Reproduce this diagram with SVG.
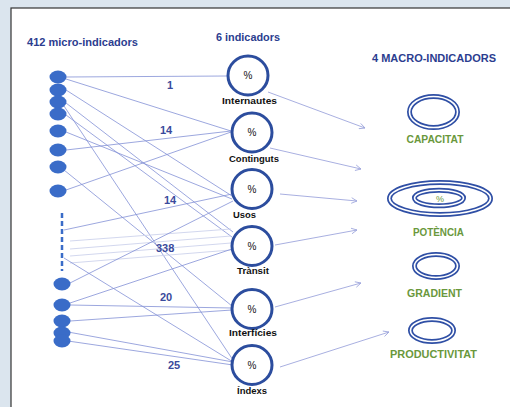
<svg xmlns="http://www.w3.org/2000/svg" width="510" height="407" viewBox="0 0 510 407">
<defs>
<style>
.t{font-family:"Liberation Sans",Arial,sans-serif;font-weight:bold}
.title{font-size:11px;fill:#2b3d8f}
.num{font-size:11px;fill:#3a4a9c}
.lab{font-size:9.5px;fill:#111}
.pct{font-size:10px;fill:#111;font-weight:normal}
.mac{font-size:10.5px;fill:#6a983c}
.micro{fill:#3a6cc8}
.ind{fill:#fff;stroke:#2c4d9e;stroke-width:3}
.c{stroke:#8391d6;stroke-width:0.8;fill:none}
.f{stroke:#cdd2ec;stroke-width:0.9;fill:none}
.a{stroke:#9ea6dc;stroke-width:0.9;fill:none;marker-end:url(#ah)}
.ro{fill:none;stroke:#2f4fa5;stroke-width:5}
.ri{fill:none;stroke:#fff;stroke-width:1.6}
</style>
<marker id="ah" viewBox="0 0 10 10" refX="9" refY="5" markerWidth="7" markerHeight="7" markerUnits="userSpaceOnUse" orient="auto">
<path d="M1,1 L9,5 L1,9" fill="none" stroke="#9ea6dc" stroke-width="1.2"/>
</marker>
</defs>
<rect x="0" y="0" width="510" height="407" fill="#dbe5ee"/>
<rect x="11" y="8" width="510" height="410" fill="#fff" stroke="#333" stroke-width="1.2"/>

<text class="t title" x="27" y="46" textLength="111" lengthAdjust="spacingAndGlyphs">412 micro-indicadors</text>
<text class="t title" x="216" y="41" textLength="64" lengthAdjust="spacingAndGlyphs">6 indicadors</text>
<text class="t title" x="372" y="62" textLength="124" lengthAdjust="spacingAndGlyphs">4 MACRO-INDICADORS</text>

<g id="connectors">
<line class="c" x1="66" y1="77" x2="227" y2="76"/>
<line class="c" x1="66" y1="79" x2="231" y2="131"/>
<line class="c" x1="66" y1="150" x2="231" y2="131"/>
<line class="c" x1="66" y1="190" x2="231" y2="132"/>
<line class="c" x1="66" y1="90" x2="232" y2="196"/>
<line class="c" x1="66" y1="103" x2="233" y2="232"/>
<line class="c" x1="66" y1="115" x2="232" y2="237"/>
<line class="c" x1="64" y1="106" x2="233" y2="360"/>
<line class="c" x1="66" y1="132" x2="232" y2="199"/>
<line class="c" x1="64" y1="170" x2="232" y2="306"/>
<line class="c" x1="64" y1="230" x2="232" y2="194"/>
<line class="f" x1="70" y1="241" x2="231" y2="229"/>
<line class="f" x1="70" y1="249" x2="231" y2="236"/>
<line class="f" x1="70" y1="256" x2="231" y2="243"/>
<line class="f" x1="70" y1="263" x2="231" y2="250"/>
<line class="c" x1="64" y1="258" x2="233" y2="362"/>
<line class="c" x1="70" y1="283" x2="233" y2="201"/>
<line class="c" x1="70" y1="303" x2="232" y2="249"/>
<line class="c" x1="70" y1="305" x2="232" y2="308"/>
<line class="c" x1="70" y1="321" x2="232" y2="310"/>
<line class="c" x1="68" y1="332" x2="233" y2="362"/>
<line class="c" x1="68" y1="341" x2="233" y2="365"/>
<line class="a" x1="268" y1="92" x2="365" y2="128"/>
<line class="a" x1="270" y1="148" x2="361" y2="169"/>
<line class="a" x1="280" y1="194" x2="357" y2="201"/>
<line class="a" x1="275" y1="245" x2="357" y2="230"/>
<line class="a" x1="275" y1="307" x2="361" y2="283"/>
<line class="a" x1="280" y1="367" x2="389" y2="332"/>
</g>

<g id="micro">
<ellipse class="micro" cx="58" cy="77" rx="8.5" ry="6.5"/>
<ellipse class="micro" cx="58" cy="90" rx="8.5" ry="6.5"/>
<ellipse class="micro" cx="58" cy="102" rx="8.5" ry="6.5"/>
<ellipse class="micro" cx="58" cy="114" rx="8.5" ry="6.5"/>
<ellipse class="micro" cx="58" cy="131" rx="8.5" ry="6.5"/>
<ellipse class="micro" cx="58" cy="150" rx="8.5" ry="6.5"/>
<ellipse class="micro" cx="58" cy="167" rx="8.5" ry="6.5"/>
<ellipse class="micro" cx="58" cy="191" rx="8.5" ry="6.5"/>
<line x1="62" y1="213" x2="62" y2="271" stroke="#3a6cc8" stroke-width="2.5" stroke-dasharray="5 3"/>
<ellipse class="micro" cx="62" cy="284" rx="8.5" ry="6.5"/>
<ellipse class="micro" cx="62" cy="305" rx="8.5" ry="6.5"/>
<ellipse class="micro" cx="62" cy="321" rx="8.5" ry="6.5"/>
<ellipse class="micro" cx="62" cy="333" rx="8.5" ry="6.5"/>
<ellipse class="micro" cx="62" cy="341" rx="8.5" ry="6.5"/>
</g>

<g id="counts">
<text class="t num" x="167" y="89">1</text>
<text class="t num" x="160" y="134">14</text>
<text class="t num" x="164" y="204">14</text>
<text class="t num" x="156" y="252">338</text>
<text class="t num" x="160" y="301">20</text>
<text class="t num" x="168" y="369">25</text>
</g>

<g id="internautes">
<ellipse class="ind" cx="248" cy="75.5" rx="20" ry="19.5"/>
<text class="t pct" x="248" y="79" text-anchor="middle">%</text>
<text class="t lab" x="249.5" y="104" text-anchor="middle" textLength="55" lengthAdjust="spacingAndGlyphs">Internautes</text>
</g>
<g id="continguts">
<ellipse class="ind" cx="252" cy="132.5" rx="20" ry="19.5"/>
<text class="t pct" x="252" y="136" text-anchor="middle">%</text>
<text class="t lab" x="254" y="162" text-anchor="middle" textLength="50" lengthAdjust="spacingAndGlyphs">Continguts</text>
</g>
<g id="usos">
<ellipse class="ind" cx="252" cy="189" rx="20" ry="19.5"/>
<text class="t pct" x="252" y="192.5" text-anchor="middle">%</text>
<text class="t lab" x="244.5" y="218" text-anchor="middle" textLength="23" lengthAdjust="spacingAndGlyphs">Usos</text>
</g>
<g id="transit">
<ellipse class="ind" cx="252" cy="246" rx="20" ry="19.5"/>
<text class="t pct" x="252" y="249.5" text-anchor="middle">%</text>
<text class="t lab" x="253" y="274" text-anchor="middle" textLength="32" lengthAdjust="spacingAndGlyphs">Trànsit</text>
</g>
<g id="interficies">
<ellipse class="ind" cx="252" cy="309" rx="20" ry="19.5"/>
<text class="t pct" x="252" y="312.5" text-anchor="middle">%</text>
<text class="t lab" x="253" y="336" text-anchor="middle" textLength="48" lengthAdjust="spacingAndGlyphs">Interfícies</text>
</g>
<g id="index">
<ellipse class="ind" cx="252" cy="365" rx="20" ry="19.5"/>
<text class="t pct" x="252" y="368.5" text-anchor="middle">%</text>
<text class="t lab" x="252" y="394" text-anchor="middle" textLength="30" lengthAdjust="spacingAndGlyphs">Índexs</text>
</g>

<g id="capacitat">
<ellipse class="ro" cx="433.5" cy="112" rx="24" ry="15.5"/>
<ellipse class="ri" cx="433.5" cy="112" rx="24" ry="15.5"/>
<text class="t mac" x="435" y="143" text-anchor="middle" textLength="57" lengthAdjust="spacingAndGlyphs">CAPACITAT</text>
</g>
<g id="potencia">
<ellipse class="ro" cx="440" cy="198.5" rx="50.5" ry="16"/>
<ellipse class="ri" cx="440" cy="198.5" rx="50.5" ry="16"/>
<ellipse class="ro" cx="439" cy="198" rx="24.5" ry="7.8" stroke-width="4.5"/>
<ellipse class="ri" cx="439" cy="198" rx="24.5" ry="7.8" stroke-width="1.4"/>
<text class="t pct" x="440" y="202" text-anchor="middle" style="fill:#6a983c;font-size:9px">%</text>
<text class="t mac" x="438.5" y="236" text-anchor="middle" textLength="51" lengthAdjust="spacingAndGlyphs">POTÈNCIA</text>
</g>
<g id="gradient">
<ellipse class="ro" cx="436" cy="266" rx="21.5" ry="11.5"/>
<ellipse class="ri" cx="436" cy="266" rx="21.5" ry="11.5"/>
<text class="t mac" x="434.5" y="297" text-anchor="middle" textLength="55" lengthAdjust="spacingAndGlyphs">GRADIENT</text>
</g>
<g id="productivitat">
<ellipse class="ro" cx="432" cy="330.5" rx="21.5" ry="11"/>
<ellipse class="ri" cx="432" cy="330.5" rx="21.5" ry="11"/>
<text class="t mac" x="433.5" y="358" text-anchor="middle" textLength="87" lengthAdjust="spacingAndGlyphs">PRODUCTIVITAT</text>
</g>
</svg>
